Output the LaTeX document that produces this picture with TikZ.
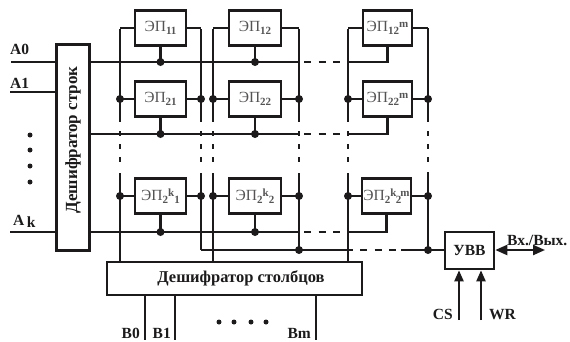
\documentclass[tikz,border=0pt]{standalone}
\usepackage{fontspec}
\setmainfont{Liberation Serif}
\usetikzlibrary{arrows.meta}
\definecolor{ink}{HTML}{1C1A1A}
\newcommand{\lo}[1]{\raisebox{-2.5pt}{\fontsize{11}{11}\selectfont\bfseries #1}}
\newcommand{\hi}[1]{\raisebox{4.5pt}{\fontsize{11}{11}\selectfont\bfseries #1}}
\tikzset{
  wire/.style={draw=ink,line width=2.2pt},
  gap/.style={draw=ink,line width=2.2pt,dash pattern=on 7pt off 7.5pt},
  vgap/.style={draw=ink,line width=2.2pt,dash pattern=on 5pt off 8pt},
  cell/.style={draw=ink,line width=2.5pt,fill=white,minimum height=35pt,inner sep=0pt,font=\fontsize{15.5}{15}\selectfont,text=ink!75},
  block/.style={draw=ink,line width=2.6pt,fill=white,inner sep=0pt,font=\fontsize{16.5}{16}\selectfont\bfseries,text=ink},
  lab/.style={inner sep=0pt,font=\fontsize{15.5}{16}\selectfont\bfseries,text=ink},
  jn/.style={circle,fill=ink,inner sep=0pt,minimum size=8pt},
  dt/.style={circle,fill=ink,inner sep=0pt,minimum size=5pt},
  tip/.style={-{Triangle[length=11pt,width=9pt]}}
}
\begin{document}
\begin{tikzpicture}[x=1pt,y=-1pt]
\useasboundingbox (0,0) rectangle (570,341);
% vertical wires (drawn first, boxes cover them)
\coordinate (v1t) at (120,29); \coordinate (v1a) at (120,122); \coordinate (v1b) at (120,173); \coordinate (v1c) at (120,262);
\coordinate (w1t) at (201,29); \coordinate (w1a) at (201,122); \coordinate (w1b) at (201,173); \coordinate (w1c) at (201,250);
\coordinate (v2t) at (213,29); \coordinate (v2a) at (213,122); \coordinate (v2b) at (213,173); \coordinate (v2c) at (213,262);
\coordinate (w2t) at (299,29); \coordinate (w2a) at (299,122); \coordinate (w2b) at (299,173); \coordinate (w2c) at (299,250);
\coordinate (v3t) at (348,29); \coordinate (v3a) at (348,122); \coordinate (v3b) at (348,173); \coordinate (v3c) at (348,262);
\coordinate (w3t) at (428,28); \coordinate (w3a) at (428,122); \coordinate (w3b) at (428,172); \coordinate (w3c) at (428,250);
\foreach \n in {v1,w1,v2,w2,v3,w3}{
  \draw[wire] (\n t) -- (\n a);
  \draw[wire] (\n b) -- (\n c);
  \draw[vgap] (\n a) ++(0,9) -- ++(0,34);
}
% cells
\node[cell,minimum width=51pt] (c11) at (160.5,28) {ЭП\lo{11}};
\node[cell,minimum width=52pt] (c12) at (255,28) {ЭП\lo{12}};
\node[cell,minimum width=49pt] (c13) at (387.5,28) {ЭП\lo{12}\hi{m}};
\node[cell,minimum width=51pt] (c21) at (160.5,99) {ЭП\lo{21}};
\node[cell,minimum width=52pt] (c22) at (255,99) {ЭП\lo{22}};
\node[cell,minimum width=49pt] (c23) at (387.5,99) {ЭП\lo{22}\hi{m}};
\node[cell,minimum width=51pt] (c31) at (160.5,196) {ЭП\lo{2}\hi{k}\lo{1}};
\node[cell,minimum width=52pt] (c32) at (255,196) {ЭП\lo{2}\hi{k}\lo{2}};
\node[cell,minimum width=49pt] (c33) at (386.5,196) {ЭП\lo{2}\hi{k}\kern-0.5pt\lo{2}\kern-1pt\hi{m}};
% decoders
\node[block,minimum width=33pt,minimum height=206pt] (dr) at (73,147.5) {};
\node[lab,rotate=90,font=\fontsize{17}{17}\selectfont\bfseries] (drt) at (73,140) {Дешифратор строк};
\node[block,minimum width=255pt,minimum height=33pt] (dc) at (234.5,278.5) {\hspace*{13pt}Дешифратор столбцов};
\node[block,minimum width=49pt,minimum height=37pt,font=\fontsize{15.5}{16}\selectfont\bfseries] (uvv) at (469.5,250.5) {УВВ};
% address inputs
\coordinate (a0) at (11,62); \coordinate (a1) at (10,92); \coordinate (ak) at (10,232);
\draw[wire] (a0) -- (a0 -| dr.west);
\draw[wire] (a1) -- (a1 -| dr.west);
\draw[wire] (ak) -- (ak -| dr.west);
\node[lab,anchor=base west] (la0) at (10,54) {A0};
\node[lab,anchor=base west] (la1) at (10,88) {A1};
\node[lab,anchor=base west] (lak) at (13,225) {A\,\raisebox{-2pt}{k}};
\node[dt] (d1) at (30,135) {}; \node[dt] (d2) at (30,150) {}; \node[dt] (d3) at (30,166) {}; \node[dt] (d4) at (30,182) {};
% row buses
\coordinate (r1e) at (299,62); \coordinate (r1s) at (348,62); \coordinate (r2e) at (299,134); \coordinate (r2s) at (348,134);
\coordinate (r3e) at (299,232); \coordinate (r3s) at (348,232);
\coordinate (j11) at (c11.south |- r1e); \coordinate (j12) at (c12.south |- r1e);
\coordinate (j21) at (c21.south |- r2e); \coordinate (j22) at (c22.south |- r2e);
\coordinate (j31) at (c31.south |- r3e); \coordinate (j32) at (c32.south |- r3e);
\draw[wire] (r1e -| dr.east) -- (r1e);
\draw[wire] (r2e -| dr.east) -- (r2e);
\draw[wire] (r3e -| dr.east) -- (r3e);
\draw[gap] (304,62) -- (r1s);
\draw[gap] (304,134) -- (r2s);
\draw[gap] (304,232) -- (r3s);
\draw[wire] (r1s) -- (r1s -| c13.south) -- (c13.south);
\draw[wire] (r2s) -- (r2s -| c23.south) -- (c23.south);
\draw[wire] (r3s) -- (r3s -| c33.south) -- (c33.south);
\foreach \c/\j in {c11/j11,c12/j12,c21/j21,c22/j22,c31/j31,c32/j32}{
  \draw[wire] (\c.south) -- (\j);
  \node[jn] at (\j) {};
}
% side connections
\foreach \c/\y/\l/\r in {c11/29/v1/w1,c12/29/v2/w2,c13/29/v3/w3}{
  \draw[wire] (\c.west) -- (\c.west -| \l t);
  \draw[wire] (\c.east) -- (\c.east -| \r t);
}
\foreach \c/\l/\r in {c21/v1/w1,c22/v2/w2,c23/v3/w3,c31/v1/w1,c32/v2/w2,c33/v3/w3}{
  \draw[wire] (\c.west) -- (\c.west -| \l t) node[jn] {};
  \draw[wire] (\c.east) -- (\c.east -| \r t) node[jn] {};
}
% data bus
\coordinate (b1) at (353,250); \coordinate (b2) at (401,250);
\draw[wire] (w1c) -- (b1);
\draw[gap] (360,250) -- (b2);
\draw[wire] (b2) -- (uvv.west |- b2);
\node[jn] at (w2c) {};
\node[jn] at (w3c) {};
% column address
\coordinate (bb0) at (145,340); \coordinate (bb1) at (175,340); \coordinate (bbm) at (316,340);
\draw[wire] (bb0 |- dc.south) -- (bb0);
\draw[wire] (bb1 |- dc.south) -- (bb1);
\draw[wire] (bbm |- dc.south) -- (bbm);
\node[lab,anchor=base east] (lb0) at (140,338) {B0};
\node[lab,anchor=base east] (lb1) at (171,338) {B1};
\node[lab,anchor=base east] (lbm) at (311,338) {Bm};
\node[dt] (e1) at (219,322) {}; \node[dt] (e2) at (234,322) {}; \node[dt] (e3) at (251,322) {}; \node[dt] (e4) at (266,322) {};
% I/O
\coordinate (io) at (545,250);
\draw[wire,{Triangle[length=12pt,width=10pt]}-{Triangle[length=12pt,width=10pt]}] (uvv.east |- io) -- (io);
\node[lab,anchor=base west] (lio) at (507,245) {Вх./Вых.};
\coordinate (cs) at (459,320); \coordinate (wr) at (481,320);
\draw[wire,tip] (cs) -- (cs |- uvv.south);
\draw[wire,tip] (wr) -- (wr |- uvv.south);
\node[lab,anchor=base east] (lcs) at (453,319) {CS};
\node[lab,anchor=base west] (lwr) at (489,319) {WR};
\end{tikzpicture}
\end{document}
